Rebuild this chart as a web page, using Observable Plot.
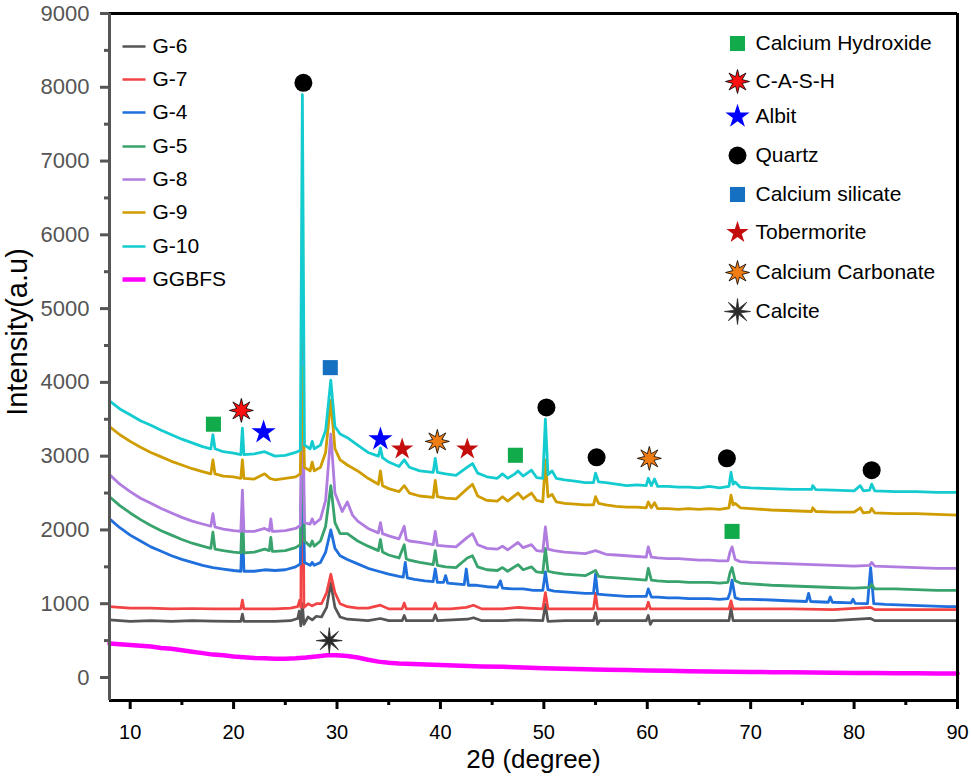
<!DOCTYPE html>
<html>
<head>
<meta charset="utf-8">
<script src="https://cdn.jsdelivr.net/npm/d3@7"></script>
<script src="https://cdn.jsdelivr.net/npm/@observablehq/plot@0.6"></script>
<style>
  html, body { margin: 0; padding: 0; background: #fff; overflow: hidden; }
  #chart { width: 971px; height: 779px; }
</style>
</head>
<body>
<div id="chart"></div>
<script>
// ---------- DATA ----------
const seriesNames = ["G-6", "G-7", "G-4", "G-5", "G-8", "G-9", "G-10", "GGBFS"];

const g6 = [[8,780],[10,760],[12,770],[14,760],[16,770],[18,765],[20,760],[20.7,760],[20.85,860],[21,760],[22,760],[24,760],[25.5,770],[26.2,800],[26.35,900],[26.5,700],[26.65,1000],[26.8,720],[27.2,820],[27.6,780],[28,830],[28.5,820],[29,950],[29.4,1280],[29.8,950],[30.3,820],[31,790],[32,780],[33,770],[34.2,800],[35,770],[36.3,770],[36.5,840],[36.7,770],[38,770],[39.3,770],[39.5,850],[39.7,770],[42.6,790],[43.2,810],[44,770],[46,770],[47.5,780],[49.9,770],[50.15,990],[50.4,760],[52,770],[54,770],[54.8,770],[55,880],[55.2,720],[55.4,770],[57,770],[59.9,770],[60.1,840],[60.3,720],[60.5,770],[62,770],[64,770],[66,770],[67.9,770],[68.1,940],[68.3,770],[70,770],[74,770],[78,770],[81.6,800],[82,770],[86,770],[90,770]];

const g7 = [[8,960],[9,950],[10,940],[12,940],[14,930],[16,935],[18,930],[20,930],[20.7,930],[20.85,1050],[21,930],[22,930],[24,930],[25.5,940],[26.2,960],[26.4,1050],[26.5,950],[26.65,5200],[26.8,950],[27.2,1000],[27.6,970],[28,1000],[28.5,1000],[29,1150],[29.4,1400],[29.8,1150],[30.3,1000],[31,960],[32,940],[33,940],[34.2,980],[35,930],[36.3,930],[36.5,1010],[36.7,930],[38,930],[39.3,930],[39.5,1010],[39.7,930],[41,930],[42.5,950],[43.2,980],[44,930],[46,930],[47.5,950],[48.5,940],[49.9,930],[50.15,1150],[50.4,930],[52,930],[54,930],[54.8,930],[55,1140],[55.2,930],[57,930],[59.9,930],[60.1,1020],[60.3,930],[62,930],[64,930],[66,930],[67.9,930],[68.1,1040],[68.3,930],[70,930],[74,930],[78,920],[81.6,950],[82,920],[86,920],[90,920]];

const g4 = [[8,2150],[9,2030],[10,1930],[11,1850],[12,1770],[13,1710],[14,1650],[15,1600],[16,1560],[17,1520],[18,1490],[19,1470],[20,1450],[20.7,1440],[20.85,2100],[21,1440],[22,1440],[23,1460],[24,1450],[25,1460],[26,1500],[26.45,1540],[26.65,3300],[26.85,1560],[27.4,1520],[27.6,1560],[27.8,1520],[28.4,1560],[28.9,1700],[29.4,2000],[29.8,1750],[30.3,1650],[31,1600],[32,1540],[33,1480],[34,1440],[35,1400],[36,1370],[36.4,1360],[36.6,1560],[36.8,1350],[37.5,1330],[38.5,1310],[39.3,1300],[39.5,1470],[39.7,1290],[40.3,1290],[40.5,1380],[40.7,1280],[41.5,1270],[42.3,1260],[42.5,1470],[42.7,1250],[43.5,1250],[44.5,1230],[45.5,1220],[45.8,1310],[46,1210],[47,1200],[48,1200],[49,1180],[49.9,1180],[50.15,1430],[50.4,1190],[51,1170],[52,1160],[53,1150],[54,1140],[54.8,1140],[55,1400],[55.2,1130],[56,1120],[57,1110],[58,1100],[59,1100],[59.9,1100],[60.1,1200],[60.4,1090],[61,1090],[62,1080],[63,1080],[64,1070],[65,1070],[66,1070],[67,1060],[67.8,1070],[68,1150],[68.2,1320],[68.5,1080],[69,1060],[70,1060],[72,1050],[73.5,1040],[75.4,1030],[75.6,1140],[75.8,1030],[77.5,1020],[77.7,1090],[77.9,1020],[79.7,1010],[79.9,1060],[80.1,1005],[81.3,1000],[81.6,1490],[81.9,1000],[83,990],[85,980],[87,970],[89,960],[90,960]];

const g5 = [[8,2450],[9,2330],[10,2230],[11,2140],[12,2060],[13,1990],[14,1930],[15,1870],[16,1820],[17,1780],[17.8,1750],[18,1970],[18.2,1740],[19,1720],[20,1700],[20.7,1690],[20.85,2250],[21,1690],[22,1700],[23,1740],[23.45,1720],[23.6,1900],[23.75,1710],[24,1710],[25,1720],[26,1760],[26.45,1800],[26.65,3600],[26.85,1850],[27.4,1780],[27.6,1850],[27.8,1780],[28.4,1850],[28.9,2050],[29.4,2600],[29.8,2100],[30.3,1950],[31,1950],[32,1850],[33,1780],[34,1720],[34.2,1870],[34.4,1700],[35,1660],[36,1620],[36.5,1800],[36.7,1610],[37,1590],[38,1560],[39.3,1530],[39.5,1720],[39.7,1520],[40.5,1500],[41.5,1490],[42.6,1620],[43.1,1650],[43.6,1500],[44.5,1460],[45.5,1450],[46,1490],[46.5,1440],[47.5,1530],[48,1460],[48.8,1500],[49.3,1430],[49.9,1420],[50.15,1750],[50.4,1440],[51,1420],[52,1400],[53,1390],[54,1380],[55,1450],[55.3,1370],[56,1360],[57,1350],[58,1340],[59,1330],[59.9,1320],[60.1,1480],[60.4,1320],[61,1310],[62,1300],[63,1300],[64,1290],[65,1290],[66,1290],[67,1280],[67.8,1290],[68,1420],[68.2,1490],[68.5,1310],[69,1280],[70,1270],[72,1250],[74,1240],[76,1230],[78,1220],[80,1210],[81.5,1220],[81.7,1260],[82,1200],[84,1200],[86,1190],[88,1180],[90,1180]];

const g8 = [[8,2750],[9,2620],[10,2520],[11,2430],[12,2360],[13,2290],[14,2230],[15,2170],[16,2120],[17,2080],[17.8,2050],[18,2220],[18.2,2040],[19,2010],[20,1990],[20.7,1980],[20.85,2540],[21,1980],[22,1980],[23,2020],[23.45,1990],[23.6,2150],[23.75,1980],[24,1980],[25,1990],[26,2020],[26.45,2060],[26.65,4300],[26.85,2100],[27.4,2080],[27.6,2150],[27.8,2080],[28.4,2150],[28.9,2400],[29.4,3300],[29.8,2500],[30.5,2250],[31,2380],[31.5,2200],[32,2120],[33,2020],[34,1960],[34.2,2100],[34.4,1950],[35,1920],[36,1880],[36.5,2050],[36.7,1870],[37,1850],[38,1830],[39.3,1800],[39.5,1980],[39.7,1790],[40.5,1780],[41.5,1770],[42.6,1900],[43.1,1950],[43.6,1800],[44.5,1750],[45.5,1740],[46,1780],[46.5,1730],[47.5,1830],[48,1760],[48.8,1800],[49.3,1720],[49.9,1710],[50.15,2040],[50.4,1740],[51,1720],[52,1700],[53,1690],[54,1680],[55,1720],[56,1670],[57,1660],[58,1650],[59,1640],[59.9,1630],[60.1,1770],[60.4,1630],[61,1620],[62,1610],[63,1610],[64,1600],[65,1590],[66,1590],[67,1580],[67.8,1580],[68,1700],[68.2,1770],[68.5,1600],[69,1570],[70,1560],[72,1550],[74,1540],[76,1530],[78,1520],[80,1510],[81.5,1520],[81.7,1560],[82,1510],[84,1500],[86,1490],[88,1480],[90,1480]];

const g9 = [[8,3400],[9,3290],[10,3200],[11,3120],[12,3050],[13,2990],[14,2930],[15,2880],[16,2830],[17,2790],[17.8,2760],[18,2950],[18.2,2760],[19,2730],[20,2720],[20.7,2700],[20.85,2950],[21,2700],[22,2690],[23,2760],[23.5,2700],[24,2680],[25,2700],[26,2720],[26.45,2760],[26.65,4200],[26.85,2850],[27.4,2800],[27.6,2920],[27.8,2800],[28.4,2850],[28.9,3050],[29.4,3760],[29.8,3100],[30.3,2950],[31,2880],[32,2800],[33,2700],[34,2620],[34.2,2800],[34.4,2600],[35,2560],[36,2520],[36.5,2600],[37,2500],[38,2460],[39.3,2440],[39.5,2670],[39.7,2450],[40.5,2430],[41.5,2420],[42.6,2560],[43.1,2620],[43.6,2460],[44.5,2400],[45.5,2390],[46,2450],[46.5,2390],[47.5,2500],[48,2420],[48.8,2500],[49.3,2400],[49.9,2380],[50.15,2950],[50.4,2450],[50.8,2480],[51.2,2380],[52,2360],[53,2350],[54,2340],[54.8,2340],[55,2450],[55.3,2360],[56,2340],[57,2320],[58,2310],[59,2310],[59.9,2300],[60.1,2380],[60.4,2300],[60.7,2370],[61,2290],[62,2290],[63,2280],[64,2290],[65,2280],[66,2290],[67,2280],[67.9,2300],[68.1,2470],[68.3,2340],[68.5,2360],[69,2300],[70,2290],[72,2270],[74,2260],[75.9,2250],[76,2300],[76.3,2250],[78,2240],[80,2240],[80.6,2300],[80.9,2230],[81.5,2240],[81.7,2290],[82,2230],[84,2220],[86,2220],[88,2210],[90,2200]];

const g10 = [[8,3750],[9,3640],[10,3560],[11,3480],[12,3420],[13,3350],[14,3290],[15,3230],[16,3180],[17,3130],[17.8,3100],[18,3290],[18.2,3100],[19,3060],[20,3040],[20.7,3020],[20.85,3380],[21,3020],[22,3030],[23,3060],[24,3000],[25,3010],[26,3050],[26.45,3080],[26.65,7900],[26.85,3150],[27.4,3100],[27.6,3200],[27.8,3100],[28.4,3150],[28.9,3350],[29.4,4030],[29.8,3400],[30.3,3300],[31,3250],[32,3150],[33,3050],[34,3000],[34.2,3110],[34.4,2980],[35,2920],[36,2860],[36.5,2950],[37,2850],[38,2800],[39.3,2780],[39.5,2970],[39.7,2780],[40.5,2760],[41.5,2740],[42.6,2850],[43.1,2900],[43.6,2770],[44.5,2720],[45.5,2700],[46,2760],[46.5,2700],[47.2,2760],[47.5,2800],[48,2730],[48.8,2810],[49.3,2710],[49.9,2700],[50.15,3500],[50.4,2750],[50.8,2800],[51.2,2700],[52,2680],[53,2660],[54,2640],[54.8,2640],[55,2770],[55.3,2650],[56,2640],[57,2620],[58,2600],[59,2610],[59.9,2600],[60.1,2700],[60.4,2600],[60.7,2690],[61,2590],[62,2590],[63,2580],[64,2580],[65,2570],[66,2590],[67,2570],[67.9,2590],[68.1,2780],[68.3,2620],[68.5,2650],[69,2580],[70,2570],[72,2560],[74,2550],[75.9,2550],[76,2600],[76.3,2545],[78,2540],[80,2530],[80.6,2600],[80.9,2530],[81.5,2540],[81.7,2620],[82,2530],[84,2520],[86,2520],[88,2510],[90,2510]];

const ggbfs = [[8,460],[9,450],[10,440],[11,430],[12,420],[13,400],[14,390],[15,370],[16,350],[17,330],[18,310],[19,300],[20,285],[21,275],[22,265],[23,260],[24,255],[25,255],[26,260],[27,270],[28,285],[29,300],[30,300],[31,290],[32,270],[33,240],[34,215],[35,200],[36,190],[38,180],[40,170],[42,160],[44,150],[46,145],[48,135],[50,125],[52,120],[54,110],[56,105],[58,100],[60,95],[62,90],[64,85],[66,80],[68,78],[70,75],[72,72],[74,70],[76,68],[78,65],[80,62],[82,60],[84,58],[86,56],[88,55],[90,55]];

const seriesData = [g6, g7, g4, g5, g8, g9, g10, ggbfs];

const phaseNames = ["Calcium Hydroxide", "C-A-S-H", "Albit", "Quartz", "Calcium silicate", "Tobermorite", "Calcium Carbonate", "Calcite"];
const phaseX = [[18.05, 47.25, 68.2], [20.75], [22.9, 34.2], [26.75, 50.25, 55.1, 67.7, 81.7], [29.35], [36.3, 42.6], [39.7, 60.2], [29.25]];
const phaseY = [[3433, 3012, 1980], [3620], [3325, 3230], [8060, 3660, 2985, 2970, 2810], [4200], [3095, 3095], [3200, 2970], [500]];

const xTicks = [10, 20, 30, 40, 50, 60, 70, 80, 90];
const yTicks = [0, 1000, 2000, 3000, 4000, 5000, 6000, 7000, 8000, 9000];

// ---------- STYLES ----------
const seriesColors = ["#555555", "#f24444", "#1f6fdc", "#38a36c", "#b07ce0", "#cf9d00", "#14cbcf", "#ff00ff"];
const seriesWidths = [2.7, 2.7, 2.8, 2.8, 2.8, 2.8, 2.8, 4.5];

function star8(ratio) {
  return {
    draw(ctx, size) {
      const R = Math.sqrt(size / Math.PI), r = R * ratio;
      for (let i = 0; i < 16; i++) {
        const a = i * Math.PI / 8 - Math.PI / 2, rad = i % 2 ? r : R;
        const px = rad * Math.cos(a), py = rad * Math.sin(a);
        if (i) ctx.lineTo(px, py); else ctx.moveTo(px, py);
      }
      ctx.closePath();
    }
  };
}
const phaseStyle = [
  {symbol: "square", fill: "#12ab4c", stroke: "none", r: 8.5},
  {symbol: star8(0.42), fill: "#ff1010", stroke: "#000", r: 12},
  {symbol: "star", fill: "#0000ff", stroke: "none", r: 7.6},
  {symbol: "circle", fill: "#000", stroke: "none", r: 9},
  {symbol: "square", fill: "#1570c2", stroke: "none", r: 8.5},
  {symbol: "star", fill: "#c40e0e", stroke: "none", r: 7},
  {symbol: star8(0.42), fill: "#f07c14", stroke: "#000", r: 12},
  {symbol: star8(0.25), fill: "#2a2a2a", stroke: "#2a2a2a", r: 13}
];

// layout helpers (pixel -> data) for the in-frame legends
const mL = 109, mR = 14, mT = 13, mB = 79, W = 971, H = 779;
const xDom = [8, 90], yDom = [-312, 9000];
const xd = px => xDom[0] + (px - mL) / (W - mR - mL) * (xDom[1] - xDom[0]);
const yd = py => yDom[0] + (H - mB - py) / (H - mB - mT) * (yDom[1] - yDom[0]);
const leftRowsPx = [46, 79, 112, 146, 179, 212, 246, 279];
const rightRowsPx = [43, 81, 116, 155, 194, 232, 272, 311];

const marks = [];
// series lines
seriesData.forEach((s, i) => {
  marks.push(Plot.line(s, {x: d => d[0], y: d => d[1], stroke: seriesColors[i], strokeWidth: seriesWidths[i], strokeLinejoin: "round"}));
});
// phase markers
phaseNames.forEach((name, i) => {
  const pts = phaseX[i].map((x, j) => ({x, y: phaseY[i][j]}));
  const st = phaseStyle[i];
  marks.push(Plot.dot(pts, {x: "x", y: "y", symbol: st.symbol, fill: st.fill, stroke: st.stroke, strokeWidth: 0.8, r: st.r}));
});
// left legend (series)
seriesNames.forEach((name, i) => {
  const yv = yd(leftRowsPx[i]);
  marks.push(Plot.link([name], {x1: xd(122), x2: xd(145), y1: yv, y2: yv, stroke: seriesColors[i], strokeWidth: i === 7 ? 4.5 : 2.5}));
  marks.push(Plot.text([name], {x: xd(152), y: yv, text: d => d, textAnchor: "start", fontSize: 21, fill: "#000"}));
});
// right legend (phases)
phaseNames.forEach((name, i) => {
  const yv = yd(rightRowsPx[i]);
  const st = phaseStyle[i];
  marks.push(Plot.dot([name], {x: xd(737), y: yv, symbol: st.symbol, fill: st.fill, stroke: st.stroke, strokeWidth: 0.8, r: st.r}));
  marks.push(Plot.text([name], {x: xd(755), y: yv, text: d => d, textAnchor: "start", fontSize: 21, fill: "#000"}));
});
// axes
const minorX = xTicks.slice(0, -1).map(t => t + 5);
const minorY = yTicks.map(t => t + 500).filter(t => t < 9000);
marks.push(
  Plot.axisX({ticks: xTicks, tickSize: 9, tickPadding: 15, strokeWidth: 3, stroke: "#000", fontSize: 20, fill: "#000", label: null, tickFormat: d => String(d)}),
  Plot.axisX({ticks: minorX, tickSize: 5, strokeWidth: 3, stroke: "#000", text: null, label: null}),
  Plot.axisY({ticks: yTicks, tickSize: 9, tickPadding: 11, strokeWidth: 3, stroke: "#555", fontSize: 22, fill: "#555", label: null, tickFormat: d => String(d)}),
  Plot.axisY({ticks: minorY, tickSize: 5, strokeWidth: 3, stroke: "#555", text: null, label: null}),
  Plot.ruleY([yDom[0]], {stroke: "#000", strokeWidth: 3}),
  Plot.ruleY([yDom[1]], {stroke: "#000", strokeWidth: 3}),
  Plot.ruleX([xDom[1]], {stroke: "#000", strokeWidth: 3}),
  Plot.ruleX([xDom[0]], {stroke: "#555", strokeWidth: 3}),
  Plot.text(["2θ (degree)"], {frameAnchor: "bottom", lineAnchor: "middle", dy: 59, fontSize: 26, fill: "#000"}),
  Plot.text(["Intensity(a.u)"], {frameAnchor: "left", textAnchor: "middle", dx: -92, dy: -25, rotate: -90, fontSize: 29, fill: "#000"})
);

const chart = Plot.plot({
  width: W, height: H,
  marginLeft: mL, marginRight: mR, marginTop: mT, marginBottom: mB,
  x: {domain: xDom},
  y: {domain: yDom},
  style: {fontFamily: "'Liberation Sans', Arial, sans-serif", background: "#fff", overflow: "visible"},
  marks
});
document.getElementById("chart").appendChild(chart);
</script>
</body>
</html>
